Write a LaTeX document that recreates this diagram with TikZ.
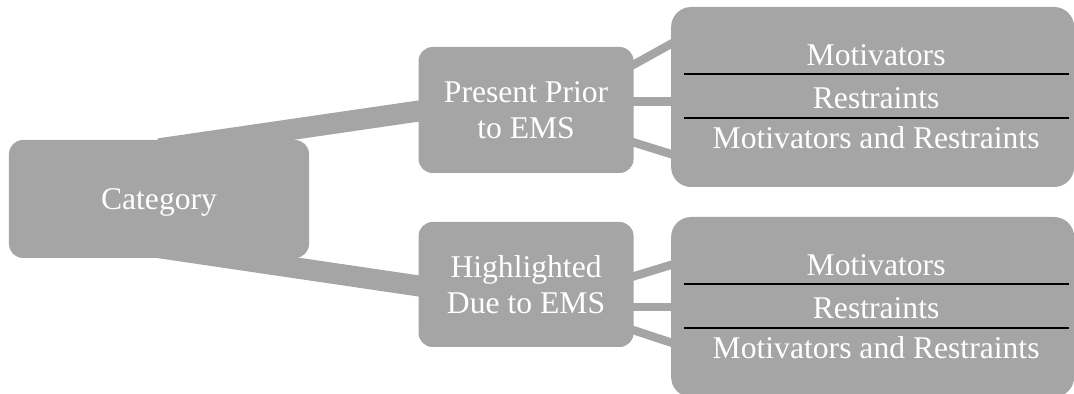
\documentclass[tikz,border=0pt]{standalone}
\usepackage{fontspec}
\setmainfont{Liberation Serif}
\usetikzlibrary{positioning, backgrounds}
\definecolor{boxgray}{RGB}{165,165,165}

\begin{document}
\begin{tikzpicture}[
  box/.style={rectangle, rounded corners=0.35cm, fill=boxgray, inner sep=0pt,
              text=white, font=\fontsize{22.5}{26}\selectfont, align=center},
  listbox/.style={box, rounded corners=0.5cm, minimum width=10.075cm, minimum height=4.5cm},
  entry/.style={anchor=base, inner sep=0pt, text=white, font=\fontsize{22.5}{26}\selectfont},
  link/.style={draw=boxgray, line width=0.525cm},
  twig/.style={draw=boxgray, line width=0.21cm, shorten <=-0.2cm, shorten >=-0.2cm},
  sepline/.style={draw=black, line width=0.04cm}
]
\useasboundingbox (-3.975,-4.875) rectangle (22.875,4.975);

% Level 1: root
\node[box, minimum width=7.5cm, minimum height=2.95cm,
      text height=0.75cm, text depth=0.2cm] (cat) at (0,0) {Category};

% Level 2: timing
\node[box, minimum width=5.375cm, minimum height=3.15cm,
      right=2.725cm of cat, yshift=2.225cm] (prior) {Present Prior\\to EMS};
\node[box, minimum width=5.375cm, minimum height=3.125cm,
      right=2.725cm of cat, yshift=-2.1375cm] (due) {Highlighted\\Due to EMS};

% Level 3: lists
\node[listbox, right=0.925cm of prior, yshift=0.325cm] (listA) {};
\node[listbox, right=0.925cm of due, yshift=-0.5625cm] (listB) {};

\foreach \l in {listA, listB} {
  \node[entry] (\l-1) at ([xshift=0.0875cm, yshift=0.775cm]\l.center) {Motivators};
  \node[entry] (\l-2) at ([xshift=0.0875cm, yshift=-0.3cm]\l.center) {Restraints};
  \node[entry] (\l-3) at ([xshift=0.0875cm, yshift=-1.3cm]\l.center) {Motivators and Restraints};
  \draw[sepline] ([xshift=-4.7125cm, yshift=0.5675cm]\l.center) -- ([xshift=4.9125cm, yshift=0.5675cm]\l.center);
  \draw[sepline] ([xshift=-4.7125cm, yshift=-0.5325cm]\l.center) -- ([xshift=4.9125cm, yshift=-0.5325cm]\l.center);
}

% Connectors
\begin{scope}[on background layer]
\draw[link] ([yshift=1.255cm]cat.center) -- ([yshift=0.365cm]prior.center);
\draw[link] ([yshift=-1.2175cm]cat.center) -- ([yshift=-0.4325cm]due.center);

\draw[twig] ([yshift=1.1375cm]prior.east) -- ([yshift=1.325cm]listA.west);
\draw[twig] ([yshift=0.2125cm]prior.east) -- ([yshift=-0.1125cm]listA.west);
\draw[twig] ([yshift=-0.8125cm]prior.east) -- ([yshift=-1.425cm]listA.west);

\draw[twig] ([yshift=0.205cm]due.east) -- ([yshift=1.05cm]listB.west);
\draw[twig] ([yshift=-0.5625cm]due.east) -- ([yshift=0cm]listB.west);
\draw[twig] ([yshift=-1.145cm]due.east) -- ([yshift=-0.8875cm]listB.west);
\end{scope}
\end{tikzpicture}
\end{document}
